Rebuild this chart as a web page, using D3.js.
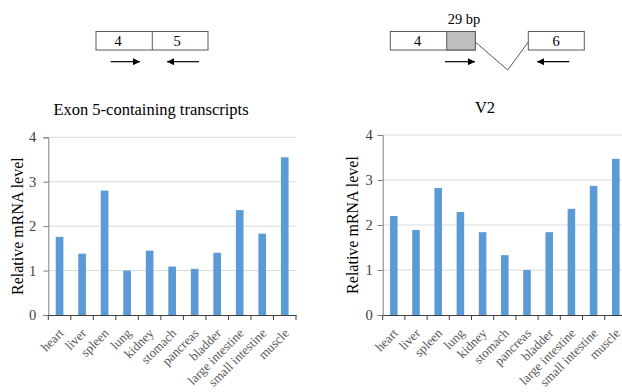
<!DOCTYPE html>
<html><head><meta charset="utf-8">
<script src="https://cdn.jsdelivr.net/npm/d3@7"></script>
<style>
html,body{margin:0;padding:0;background:#fff;}
svg text{font-family:'Liberation Serif','Times New Roman',serif !important;}
</style></head>
<body>
<svg id="c" width="622" height="392"></svg>
<script>
const categories = ["heart","liver","spleen","lung","kidney","stomach","pancreas","bladder","large intestine","small intestine","muscle"];
const exon5Values = [1.76,1.38,2.80,1.00,1.45,1.09,1.04,1.40,2.36,1.83,3.55];
const v2Values = [2.20,1.89,2.82,2.29,1.84,1.33,1.00,1.84,2.36,2.87,3.47];
const yTicks = [0,1,2,3,4];
const titles = ["Exon 5-containing transcripts","V2"];
const yLabel = "Relative mRNA level";

const svg = d3.select("#c");
const barColor = "#5b9bd5";

function drawChart(values, x0, x1, yTop, yBot, title, titleX, titleY, ylabX, tickPad) {
  const g = svg.append("g");
  const x = d3.scaleBand().domain(categories).range([x0, x1]).paddingInner(0.66).paddingOuter(0.33);
  const y = d3.scaleLinear().domain([0,4]).range([yBot, yTop]);
  g.selectAll("line.grid").data(yTicks.filter(d=>d>0)).join("line")
    .attr("x1", x0).attr("x2", x1).attr("y1", d=>y(d)).attr("y2", d=>y(d))
    .attr("stroke", "#d9d9d9").attr("stroke-width", 1);
  g.selectAll("rect.bar").data(values).join("rect")
    .attr("x", (d,i)=>x(categories[i])).attr("width", x.bandwidth())
    .attr("y", d=>y(d)).attr("height", d=>yBot - y(d)).attr("fill", barColor);
  const ya = g.append("g").attr("transform", `translate(${x0},0)`)
    .call(d3.axisLeft(y).tickValues(yTicks).tickSize(5).tickPadding(tickPad).tickFormat(d3.format("d")));
  ya.select(".domain").attr("stroke", "#7f7f7f");
  ya.selectAll(".tick line").attr("stroke", "#7f7f7f");
  ya.selectAll("text").attr("font-size", 14.5).attr("fill", "#404040");
  const xa = g.append("g").attr("transform", `translate(0,${yBot})`)
    .call(d3.axisBottom(x).tickSize(0).tickPadding(0));
  xa.select(".domain").attr("stroke", "#404040");
  xa.selectAll(".tick text")
    .attr("font-size", 13).attr("fill", "#595959")
    .attr("text-anchor", "end").attr("dy", 0)
    .attr("transform", "translate(5,19) rotate(-45)");
  const bounds = d3.range(categories.length + 1).map(i => x0 + i * x.step());
  g.selectAll("line.xt").data(bounds).join("line")
    .attr("x1", d=>d).attr("x2", d=>d).attr("y1", yBot).attr("y2", yBot+5)
    .attr("stroke", "#404040");
  g.append("text").attr("x", titleX).attr("y", titleY).attr("text-anchor", "middle")
    .attr("font-size", 16.5).attr("fill", "#000").text(title);
  g.append("text").attr("transform", `translate(${ylabX},${(yTop+yBot)/2}) rotate(-90)`)
    .attr("text-anchor", "middle").attr("font-size", 16).attr("fill", "#000").text(yLabel);
}

drawChart(exon5Values, 48.3, 296, 137.3, 315, titles[0], 151, 115, 23, 7);
drawChart(v2Values, 382.7, 626.9, 135, 315, titles[1], 485, 113, 357.5, 5);

const d = svg.append("g");
const boxStroke = "#595959";
d.append("rect").attr("x",96).attr("y",31.5).attr("width",112).attr("height",18.5).attr("fill","#fff").attr("stroke",boxStroke);
d.append("line").attr("x1",152.3).attr("x2",152.3).attr("y1",31.5).attr("y2",50).attr("stroke",boxStroke);
d.append("text").attr("x",118).attr("y",46).attr("text-anchor","middle").attr("font-size",14.5).text("4");
d.append("text").attr("x",177).attr("y",46).attr("text-anchor","middle").attr("font-size",14.5).text("5");

d.append("rect").attr("x",390.3).attr("y",31.5).attr("width",85).attr("height",18.5).attr("fill","#fff").attr("stroke",boxStroke);
d.append("rect").attr("x",446.7).attr("y",31.5).attr("width",28.6).attr("height",18.5).attr("fill","#bfbfbf").attr("stroke",boxStroke);
d.append("text").attr("x",417.7).attr("y",46).attr("text-anchor","middle").attr("font-size",14.5).text("4");
d.append("text").attr("x",464).attr("y",23.5).attr("text-anchor","middle").attr("font-size",14.5).text("29 bp");
d.append("polyline").attr("points","475.3,42 507.7,70 528.3,42").attr("fill","none").attr("stroke",boxStroke);
d.append("rect").attr("x",528.3).attr("y",31.5).attr("width",56).attr("height",18.5).attr("fill","#fff").attr("stroke",boxStroke);
d.append("text").attr("x",556).attr("y",46).attr("text-anchor","middle").attr("font-size",14.5).text("6");

svg.append("defs").append("marker").attr("id","ah").attr("viewBox","0 0 10 10").attr("refX",10).attr("refY",5)
  .attr("markerWidth",7).attr("markerHeight",7).attr("markerUnits","userSpaceOnUse").attr("orient","auto")
  .append("path").attr("d","M0,0 L10,5 L0,10 Z").attr("fill","#000");
const arrows = [[110.7,140],[199,167],[445,475],[569.3,537]];
d.selectAll("line.arr").data(arrows).join("line")
  .attr("x1",a=>a[0]).attr("x2",a=>a[1]).attr("y1",61.7).attr("y2",61.7)
  .attr("stroke","#000").attr("stroke-width",1.2).attr("marker-end","url(#ah)");
</script>
</body></html>
